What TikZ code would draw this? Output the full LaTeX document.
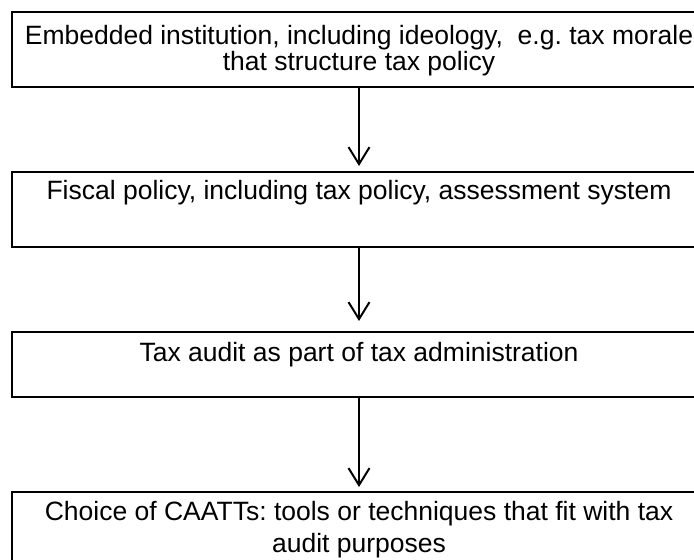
\documentclass[tikz,border=0pt]{standalone}
\usepackage{fontspec}
\setmainfont{Liberation Sans}
\usetikzlibrary{arrows.meta,positioning}

\tikzset{
  box/.style={draw, line width=2pt, minimum width=694pt, inner sep=0pt},
  boxtext/.style={anchor=north, align=center, inner sep=0pt},
  flow/.style={-{Straight Barb[length=17pt,width=21pt]}, line width=2pt, shorten >=5pt}
}

\begin{document}
\frenchspacing
\begin{tikzpicture}[x=1pt,y=-1pt]
  %%%%% START %%%%%
  \useasboundingbox (0,0) rectangle (694,560);
  \clip (0,0) rectangle (694,560);

  \node[box, minimum height=75pt] (embedded) at (359,49.5) {};
  \node[boxtext, font=\fontsize{26.5}{26}\selectfont, below=14pt of embedded.north] (embeddedtext)
    {Embedded institution, including ideology,\ \ e.g. tax morale\\that structure tax policy};

  \node[box, minimum height=75pt] (fiscal) at (359,209.5) {};
  \node[boxtext, font=\fontsize{26.5}{30}\selectfont, below=9pt of fiscal.north] (fiscaltext)
    {Fiscal policy, including tax policy, assessment system};

  \node[box, minimum height=65pt] (audit) at (359,364.5) {};
  \node[boxtext, font=\fontsize{26.5}{30}\selectfont, below=11pt of audit.north] (audittext)
    {Tax audit as part of tax administration};

  \node[box, minimum height=75pt] (caatts) at (359,529.5) {};
  \node[boxtext, font=\fontsize{26.5}{32}\selectfont, below=10pt of caatts.north] (caattstext)
    {Choice of CAATTs: tools or techniques that fit with tax\\audit purposes};

  \draw[flow] (embedded) -- (fiscal);
  \draw[flow, shorten >=10pt] (fiscal) -- (audit);
  \draw[flow, shorten >=4pt] (audit) -- (caatts);

  %%%%% END %%%%%
\end{tikzpicture}
\end{document}
